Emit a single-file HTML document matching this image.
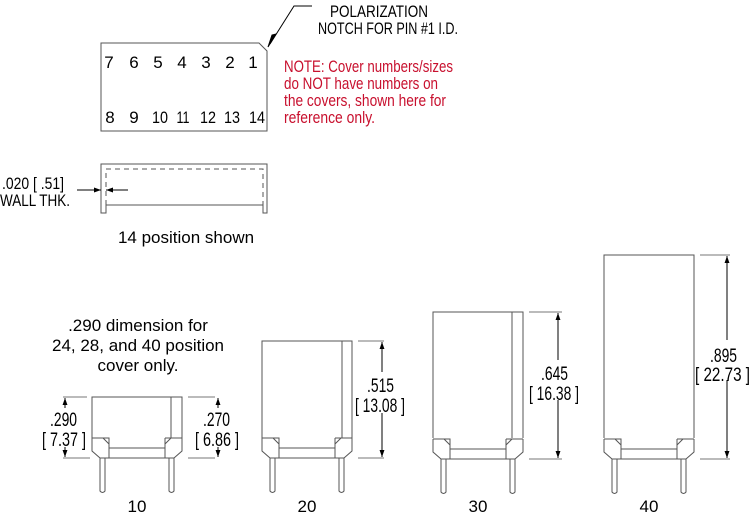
<!DOCTYPE html>
<html><head><meta charset="utf-8"><style>
html,body{margin:0;padding:0;background:#fff;}
svg{display:block;}
text{font-family:"Liberation Sans",sans-serif;fill:#000;}
</style></head><body>
<svg width="750" height="514" viewBox="0 0 750 514" xmlns="http://www.w3.org/2000/svg">
<defs>
<marker id="ar" viewBox="0 0 10 10" refX="10" refY="5" markerWidth="7" markerHeight="7" orient="auto-start-reverse"><path d="M0,1.5 L10,5 L0,8.5z" fill="#000"/></marker>
<g id="bot" fill="none" stroke="#555" stroke-width="1">
<path d="M0,-20 V-7 L8,0 H82 L90,-7 V-20"/>
<path d="M0,-20 H17 V0 M73,-20 H90 M73,-20 V0 M17,-10 H73 M11,-20 L17,-14 M79,-20 L73,-14"/>
<path d="M8,0 V33 Q10.5,36 13,33 V0 M77,0 V33 Q79.5,36 82,33 V0"/>
</g>
</defs>
<g fill="none" stroke="#555" stroke-width="1">
<path d="M101,43 H259 L267,51 V131 H101 Z"/>
<path d="M312,6 H294 L270,44" stroke="#000"/>
<path d="M276,34 L268,47 L272,35z" fill="#000" stroke="#000"/>
<path d="M101,213 V164 H267 V213 H263 V205 H106 V213 Z"/>
<path d="M106,205 V169 H263 V205" stroke-dasharray="5,4"/>
<line x1="77" y1="190" x2="101" y2="190" stroke="#000" marker-end="url(#ar)"/>
<line x1="128" y1="190" x2="106" y2="190" stroke="#000" marker-end="url(#ar)"/>
<path d="M92,438 V397 H182 V438 M171,397 V438"/>
<path d="M262,438 V341 H352 V438 M342,341 V438"/>
<path d="M433,438 V312 H523 V438 M512,312 V438"/>
<path d="M604,438 V255 H694 V438"/>
<path d="M63,397 H87 M63,458 H90 M188,397 H215 M188,458 H215 M358,341 H384 M358,458 H384 M529,312 H562 M529,459 H562 M700,255 H730 M700,459 H730" stroke="#777"/>
</g>
<use href="#bot" x="92" y="458"/>
<use href="#bot" x="262" y="458"/>
<use href="#bot" x="433" y="459"/>
<use href="#bot" x="604" y="459"/>
<g stroke="#000" fill="none">
<line x1="65" y1="408" x2="65" y2="398" marker-end="url(#ar)"/>
<line x1="65" y1="447" x2="65" y2="457" marker-end="url(#ar)"/>
<line x1="218" y1="408" x2="218" y2="398" marker-end="url(#ar)"/>
<line x1="218" y1="447" x2="218" y2="457" marker-end="url(#ar)"/>
<line x1="382" y1="372" x2="382" y2="342" marker-end="url(#ar)"/>
<line x1="382" y1="413" x2="382" y2="457" marker-end="url(#ar)"/>
<line x1="558" y1="360" x2="558" y2="313" marker-end="url(#ar)"/>
<line x1="558" y1="400" x2="558" y2="458" marker-end="url(#ar)"/>
<line x1="727" y1="340" x2="727" y2="256" marker-end="url(#ar)"/>
<line x1="727" y1="380" x2="727" y2="458" marker-end="url(#ar)"/>
</g>
<g font-size="17" text-anchor="middle">
<text x="109" y="68">7</text><text x="134" y="68">6</text><text x="158" y="68">5</text><text x="182" y="68">4</text><text x="206" y="68">3</text><text x="230" y="68">2</text><text x="253" y="68">1</text>
<text x="110" y="123">8</text><text x="134" y="123">9</text>
<text x="160" y="123" textLength="16" lengthAdjust="spacingAndGlyphs">10</text>
<text x="183" y="123" textLength="13" lengthAdjust="spacingAndGlyphs">11</text>
<text x="208" y="123" textLength="16" lengthAdjust="spacingAndGlyphs">12</text>
<text x="232" y="123" textLength="16" lengthAdjust="spacingAndGlyphs">13</text>
<text x="257" y="123" textLength="16" lengthAdjust="spacingAndGlyphs">14</text>
</g>
<g font-size="17">
<text x="330" y="17" textLength="98" lengthAdjust="spacingAndGlyphs">POLARIZATION</text>
<text x="318" y="34" textLength="140" lengthAdjust="spacingAndGlyphs">NOTCH FOR PIN #1 I.D.</text>
<text x="2" y="189" textLength="62" lengthAdjust="spacingAndGlyphs">.020 [ .51]</text>
<text x="0" y="206" textLength="70" lengthAdjust="spacingAndGlyphs">WALL THK.</text>
</g>
<g font-size="19">
<text x="50" y="426" textLength="27" lengthAdjust="spacingAndGlyphs">.290</text>
<text x="42" y="446" textLength="44" lengthAdjust="spacingAndGlyphs">[ 7.37 ]</text>
<text x="203" y="426" textLength="27" lengthAdjust="spacingAndGlyphs">.270</text>
<text x="195" y="446" textLength="44" lengthAdjust="spacingAndGlyphs">[ 6.86 ]</text>
<text x="367" y="392" textLength="27" lengthAdjust="spacingAndGlyphs">.515</text>
<text x="355" y="412" textLength="50" lengthAdjust="spacingAndGlyphs">[ 13.08 ]</text>
<text x="541" y="380" textLength="27" lengthAdjust="spacingAndGlyphs">.645</text>
<text x="529" y="400" textLength="50" lengthAdjust="spacingAndGlyphs">[ 16.38 ]</text>
<text x="710" y="362" textLength="27" lengthAdjust="spacingAndGlyphs">.895</text>
<text x="695" y="381" textLength="55" lengthAdjust="spacingAndGlyphs">[ 22.73 ]</text>
</g>
<g font-size="17">
<text x="284" y="72" style="fill:#c8102e" textLength="169" lengthAdjust="spacingAndGlyphs">NOTE: Cover numbers/sizes</text>
<text x="284" y="89" style="fill:#c8102e" textLength="154" lengthAdjust="spacingAndGlyphs">do NOT have numbers on</text>
<text x="284" y="106" style="fill:#c8102e" textLength="162" lengthAdjust="spacingAndGlyphs">the covers, shown here for</text>
<text x="284" y="123" style="fill:#c8102e" textLength="91" lengthAdjust="spacingAndGlyphs">reference only.</text>
</g>
<g font-size="17" text-anchor="middle">
<text x="186" y="243">14 position shown</text>
<text x="138" y="331">.290 dimension for</text>
<text x="138" y="351">24, 28, and 40 position</text>
<text x="138" y="371">cover only.</text>
<text x="137" y="512">10</text>
<text x="307" y="512">20</text>
<text x="478" y="512">30</text>
<text x="649" y="512">40</text>
</g>
</svg>
</body></html>
